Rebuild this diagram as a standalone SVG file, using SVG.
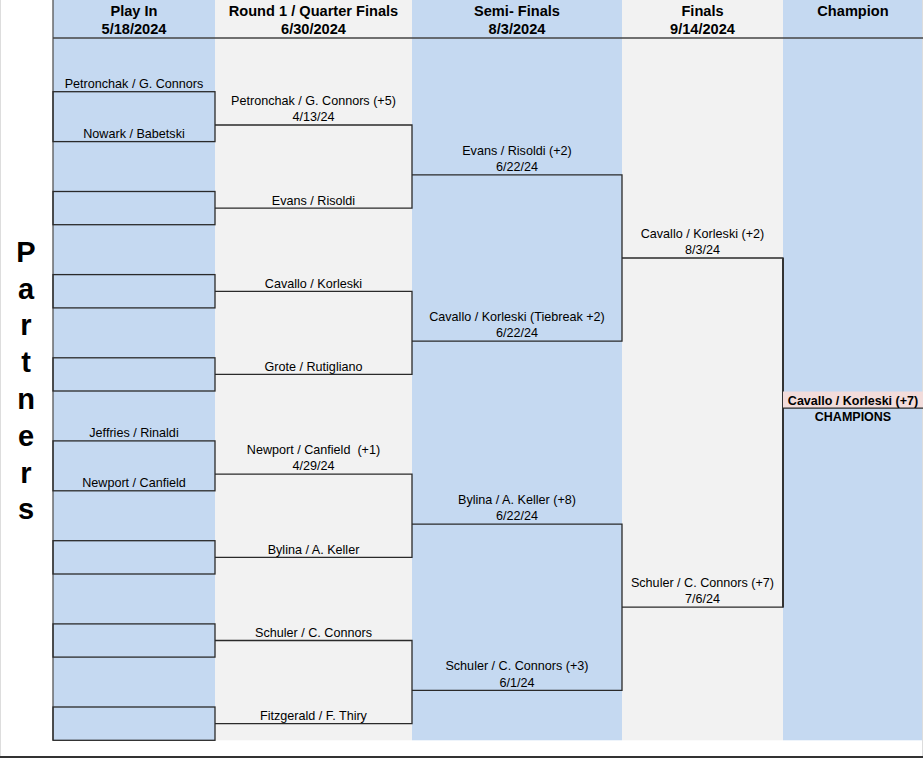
<svg xmlns="http://www.w3.org/2000/svg" width="923" height="758" viewBox="0 0 923 758">
<style>
.blue{fill:#C5D9F1}
.gray{fill:#F2F2F2}
.hd{font-family:"Liberation Sans",Arial,sans-serif;font-size:14.6px;font-weight:bold;fill:#000;text-anchor:middle}
.t{font-family:"Liberation Sans",Arial,sans-serif;font-size:12.6px;fill:#000;text-anchor:middle}
.tb{font-family:"Liberation Sans",Arial,sans-serif;font-size:12.5px;font-weight:bold;fill:#000;text-anchor:middle}
.big{font-family:"Liberation Sans",Arial,sans-serif;font-size:29px;font-weight:bold;fill:#000;text-anchor:middle}
.ln{stroke:#2a2a2a;stroke-width:1.3;fill:none}
.box{stroke:#2a2a2a;stroke-width:1.3;fill:none}
</style>
<rect x="0" y="0" width="923" height="758" fill="#FFFFFF"/>
<g id="columns">
<rect class="blue" x="53" y="0" width="162" height="740.3"/>
<rect class="gray" x="215" y="0" width="197" height="740.3"/>
<rect class="blue" x="412" y="0" width="210" height="740.3"/>
<rect class="gray" x="622" y="0" width="161" height="740.3"/>
<rect class="blue" x="783" y="0" width="140" height="740.3"/>
</g>
<g id="frame">
<line x1="0.5" y1="0" x2="0.5" y2="756" stroke="#DDDDDD" stroke-width="1"/>
<line x1="922.5" y1="0" x2="922.5" y2="756" stroke="#DDDDDD" stroke-width="1"/>
<line x1="53" y1="0" x2="53" y2="740.3" stroke="#555" stroke-width="1.3"/>
<line x1="53" y1="38" x2="923" y2="38" stroke="#444" stroke-width="1.6"/>
<line x1="0" y1="757" x2="923" y2="757" stroke="#333" stroke-width="2"/>
</g>
<g id="header">
<text class="hd" x="134" y="16">Play In</text>
<text class="hd" x="134" y="33.5">5/18/2024</text>
<text class="hd" x="313.5" y="16">Round 1 / Quarter Finals</text>
<text class="hd" x="313.5" y="33.5">6/30/2024</text>
<text class="hd" x="517" y="16">Semi- Finals</text>
<text class="hd" x="517" y="33.5">8/3/2024</text>
<text class="hd" x="702.5" y="16">Finals</text>
<text class="hd" x="702.5" y="33.5">9/14/2024</text>
<text class="hd" x="853" y="16">Champion</text>
</g>
<g id="partners-label">
<text class="big" x="26" y="262">P</text>
<text class="big" x="26" y="298.5">a</text>
<text class="big" x="26" y="335">r</text>
<text class="big" x="26" y="372">t</text>
<text class="big" x="26" y="408.5">n</text>
<text class="big" x="26" y="446">e</text>
<text class="big" x="26" y="482.5">r</text>
<text class="big" x="26" y="518.5">s</text>
</g>
<g id="playin">
<g id="pi1"><rect class="box" x="53" y="91.7" width="162" height="49.9"/>
<text class="t" x="134" y="88">Petronchak / G. Connors</text>
<text class="t" x="134" y="138">Nowark / Babetski</text></g>
<g id="pi2"><rect class="box" x="53" y="191.5" width="162" height="33.2"/></g>
<g id="pi3"><rect class="box" x="53" y="274.6" width="162" height="33.3"/></g>
<g id="pi4"><rect class="box" x="53" y="357.8" width="162" height="33.2"/></g>
<g id="pi5"><rect class="box" x="53" y="440.9" width="162" height="49.9"/>
<text class="t" x="134" y="437">Jeffries / Rinaldi</text>
<text class="t" x="134" y="487">Newport / Canfield</text></g>
<g id="pi6"><rect class="box" x="53" y="540.7" width="162" height="33.3"/></g>
<g id="pi7"><rect class="box" x="53" y="623.9" width="162" height="33.2"/></g>
<g id="pi8"><rect class="box" x="53" y="707" width="162" height="33.3"/></g>
</g>
<g id="connectors">
<path class="ln" d="M215 125 H412 V208.1 H215"/>
<path class="ln" d="M215 291.3 H412 V374.4 H215"/>
<path class="ln" d="M215 474.2 H412 V557.3 H215"/>
<path class="ln" d="M215 640.5 H412 V723.6 H215"/>
<path class="ln" d="M412 174.8 H622 V341.1 H412"/>
<path class="ln" d="M412 524.1 H622 V690.4 H412"/>
<path class="ln" d="M622 258 H783 V607.2 H622"/>
<line x1="783" y1="258" x2="783" y2="607.2" stroke="#333" stroke-width="2"/>
</g>
<g id="round1">
<g id="r1a"><text class="t" x="313.5" y="104.5">Petronchak / G. Connors (+5)</text>
<text class="t" x="313.5" y="121">4/13/24</text></g>
<g id="r1b"><text class="t" x="313.5" y="204.6">Evans / Risoldi</text></g>
<g id="r1c"><text class="t" x="313.5" y="287.7">Cavallo / Korleski</text></g>
<g id="r1d"><text class="t" x="313.5" y="370.9">Grote / Rutigliano</text></g>
<g id="r1e"><text class="t" x="313.5" y="453.8" style="white-space:pre" xml:space="preserve">Newport / Canfield  (+1)</text>
<text class="t" x="313.5" y="470.3">4/29/24</text></g>
<g id="r1f"><text class="t" x="313.5" y="553.8">Bylina / A. Keller</text></g>
<g id="r1g"><text class="t" x="313.5" y="637">Schuler / C. Connors</text></g>
<g id="r1h"><text class="t" x="313.5" y="720.1">Fitzgerald / F. Thiry</text></g>
</g>
<g id="semis">
<g id="sf1"><text class="t" x="517" y="154.5">Evans / Risoldi (+2)</text>
<text class="t" x="517" y="171">6/22/24</text></g>
<g id="sf2"><text class="t" x="517" y="320.8">Cavallo / Korleski (Tiebreak +2)</text>
<text class="t" x="517" y="337.3">6/22/24</text></g>
<g id="sf3"><text class="t" x="517" y="503.7">Bylina / A. Keller (+8)</text>
<text class="t" x="517" y="520.2">6/22/24</text></g>
<g id="sf4"><text class="t" x="517" y="670">Schuler / C. Connors (+3)</text>
<text class="t" x="517" y="686.5">6/1/24</text></g>
</g>
<g id="finals">
<g id="f1"><text class="t" x="702.5" y="237.7">Cavallo / Korleski (+2)</text>
<text class="t" x="702.5" y="254.2">8/3/24</text></g>
<g id="f2"><text class="t" x="702.5" y="586.9">Schuler / C. Connors (+7)</text>
<text class="t" x="702.5" y="603.4">7/6/24</text></g>
</g>
<g id="champion">
<rect x="783" y="391.5" width="140" height="16.5" fill="#F2DCDB"/>
<line class="ln" x1="783" y1="408.2" x2="923" y2="408.2"/>
<text class="tb" x="853" y="404.5">Cavallo / Korleski (+7)</text>
<text class="tb" x="853" y="421">CHAMPIONS</text>
</g>
</svg>
